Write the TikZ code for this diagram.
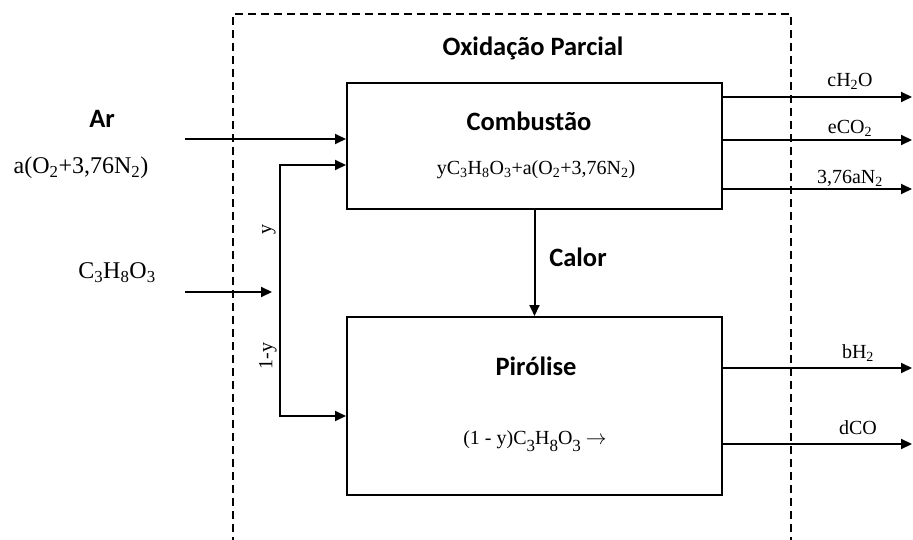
\documentclass[tikz,border=0pt]{standalone}
\usepackage{fontspec}
\setmainfont{Liberation Serif}
\newfontfamily\calib{Carlito}
\usetikzlibrary{arrows.meta}
% lowered subscript in equation-editor style
\newcommand\eqsub[1]{\raisebox{-0.32em}{\fontsize{17}{19}\selectfont #1}}
\begin{document}
\begin{tikzpicture}[x=1pt,y=-1pt,
  line width=2pt,
  flow/.style={-{Triangle[length=11pt,width=10pt]}},
  unit/.style={draw, line width=2pt, minimum width=375pt, inner sep=0pt},
  head/.style={font=\calib\bfseries\fontsize{26.5}{30}\selectfont, inner sep=0pt},
  chem/.style={font=\fontsize{24}{28}\selectfont, inner sep=0pt},
  small/.style={font=\fontsize{20}{24}\selectfont, inner sep=0pt},
  bound/.style={line width=1.5pt, dash pattern=on 8pt off 5pt}]
\useasboundingbox (0,0) rectangle (913,540);

% control volume
\draw[bound] (233,545) -- (233,14) -- (791,14) -- (791,545);
\node[head] (title) at (533,48) {Oxidação Parcial};

% process units
\node[unit, minimum height=126pt] (comb) at (534.5,146) {};
\node[unit, minimum height=178pt] (pyro) at (534.5,406) {};
\node[head] (combT) at (529,121) {Combustão};
\node[small] (combR) at (536,170) {yC\textsubscript{3}H\textsubscript{8}O\textsubscript{3}+a(O\textsubscript{2}+3,76N\textsubscript{2})};
\node[head] (pyroT) at (536,366) {Pirólise};
\node[small] (pyroR) at (535,441) {(1 - y)C\eqsub{3}H\eqsub{8}O\eqsub{3} $\rightarrow$};

% feeds
\node[head] (air) at (102,119) {Ar};
\node[chem] (airF) at (81,168) {a(O\textsubscript{2}+3,76N\textsubscript{2})};
\node[chem] (gly) at (117,273) {C\textsubscript{3}H\textsubscript{8}O\textsubscript{3}};
\coordinate (airSrc) at (185,139);
\coordinate (glySrc) at (185,292);
\coordinate (split) at (280,292);
\coordinate (ytop) at (280,165);
\coordinate (ybot) at (280,416);
\draw[flow] (airSrc) -- (airSrc -| comb.west);
\draw[flow] (glySrc) -- ([xshift=-8pt]split);
\draw[flow] (split) -- (ytop) -- (ytop -| comb.west);
\draw[flow] (split) -- (ybot) -- (ybot -| pyro.west);
\node[small, rotate=90] (yl) at (269,230) {y};
\node[small, rotate=90] (yl2) at (268,356) {1-y};

% heat transfer
\draw[flow] (comb.south) -- (pyro.north);
\node[head] (heat) at (578,257) {Calor};

% products
\coordinate (p1) at (912,97);
\coordinate (p2) at (912,140);
\coordinate (p3) at (912,189);
\coordinate (p4) at (912,368);
\coordinate (p5) at (912,444);
\draw[flow] (p1 -| comb.east) -- (p1);
\draw[flow] (p2 -| comb.east) -- (p2);
\draw[flow] (p3 -| comb.east) -- (p3);
\draw[flow] (p4 -| pyro.east) -- (p4);
\draw[flow] (p5 -| pyro.east) -- (p5);
\node[small] (l1) at (850,81) {cH\textsubscript{2}O};
\node[small] (l2) at (850,128) {eCO\textsubscript{2}};
\node[small] (l3) at (850,178) {3,76aN\textsubscript{2}};
\node[small] (l4) at (858,353) {bH\textsubscript{2}};
\node[small] (l5) at (858,428) {dCO};
\end{tikzpicture}
\end{document}
